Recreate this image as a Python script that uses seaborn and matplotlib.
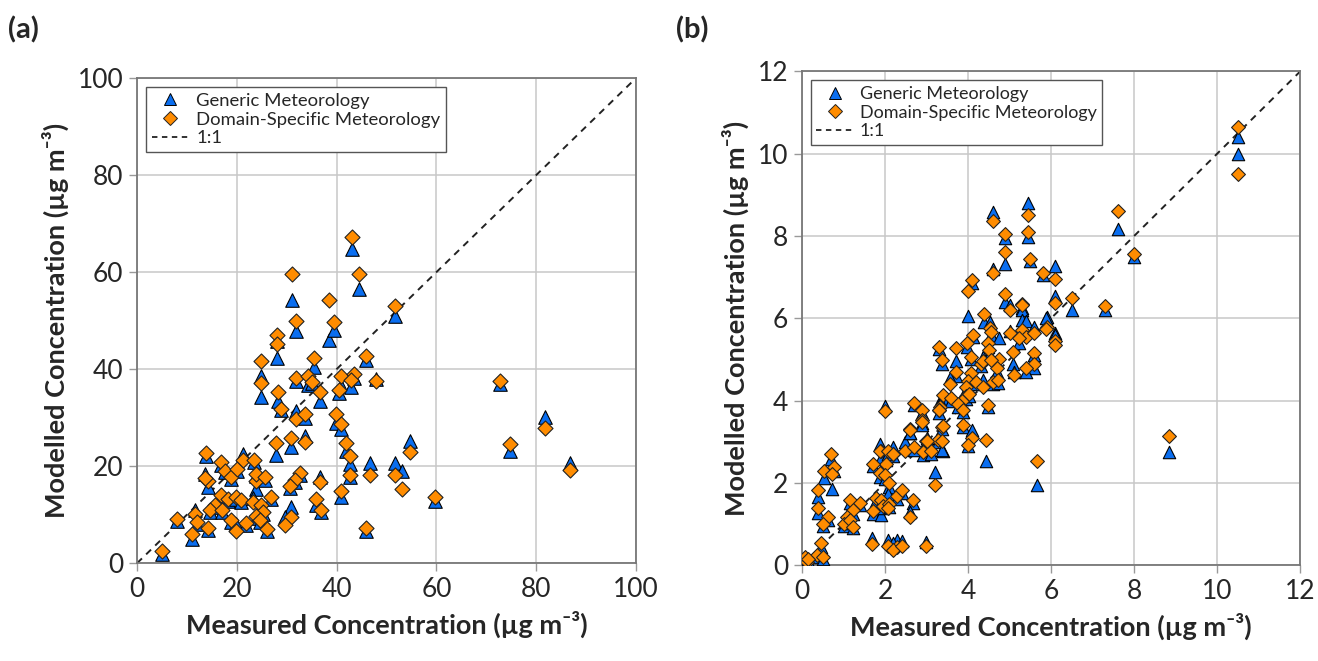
import seaborn as sns
import matplotlib.pyplot as plt
import matplotlib.lines as mlines
import pandas as pd
import numpy as np

# panel (a): measured vs modelled, generic vs domain-specific meteorology
a_measured = [43.1, 31.1, 44.4, 38.5, 51.7, 31.8, 39.5, 28.1, 28.1, 24.8, 24.8, 35.4, 45.8,
              31.8, 34.3, 35.0, 40.8, 40.5, 43.4, 42.8, 47.8, 28.2, 28.9, 36.7, 31.8, 33.7,
              39.9, 40.8, 33.7, 27.8, 30.8, 13.8, 41.8, 42.7, 54.7, 16.8, 17.6, 18.8, 20.1,
              21.3, 23.5, 46.7, 51.7, 53.0, 42.7, 32.7, 31.7, 30.7, 36.7, 40.8, 59.8, 14.2,
              23.9, 23.9, 25.6, 16.8, 18.3, 19.8, 20.8, 15.6, 14.6, 17.0, 23.3, 24.9, 25.2,
              26.8, 23.8, 24.6, 26.0, 35.9, 36.9, 30.8, 29.7, 8.0, 11.6, 12.0, 11.0, 14.2,
              18.9, 19.9, 21.8, 45.8, 4.9, 72.7, 81.8, 74.7, 86.8, 13.7]
a_generic = [64.7, 54.3, 56.5, 46.0, 51.0, 47.8, 48.0, 45.8, 42.3, 38.5, 34.2, 40.5, 41.8,
             37.5, 36.8, 37.1, 36.6, 35.0, 38.2, 36.4, 38.0, 33.4, 31.5, 33.4, 31.3, 30.0,
             28.9, 27.7, 26.3, 22.2, 23.9, 22.0, 23.2, 20.5, 25.2, 20.2, 18.7, 17.3, 19.0,
             22.5, 20.8, 20.6, 20.6, 18.9, 17.8, 18.2, 16.8, 15.5, 17.7, 13.7, 12.8, 15.7,
             15.3, 18.0, 17.2, 13.6, 12.9, 13.3, 12.6, 11.5, 10.6, 10.6, 13.5, 11.5, 10.1,
             13.2, 9.4, 8.5, 6.7, 11.9, 10.5, 11.5, 9.5, 8.7, 10.9, 8.1, 5.0, 6.9,
             8.5, 8.1, 7.8, 6.7, 1.8, 36.9, 30.2, 23.2, 20.6, 18.3]
a_domain = [67.3, 59.7, 59.7, 54.3, 53.0, 49.9, 49.7, 47.1, 45.2, 41.6, 37.1, 42.3, 42.7,
            38.2, 38.5, 37.3, 38.6, 35.6, 38.9, 37.7, 37.5, 35.3, 31.8, 35.3, 29.8, 30.7,
            30.7, 28.6, 25.0, 24.7, 25.8, 22.7, 24.7, 22.0, 23.0, 20.8, 19.1, 17.7, 19.4,
            21.3, 21.2, 18.2, 18.2, 15.3, 18.2, 18.6, 17.2, 15.9, 16.7, 14.8, 13.6, 17.0,
            17.0, 18.4, 17.7, 14.0, 13.3, 13.7, 13.0, 11.9, 11.0, 11.0, 12.6, 11.9, 10.5,
            13.6, 9.8, 8.9, 7.1, 13.3, 10.9, 9.6, 7.8, 9.1, 10.2, 8.5, 6.0, 7.3,
            8.9, 6.7, 8.2, 7.3, 2.6, 37.6, 27.9, 24.5, 19.3, 17.6]

# panel (b)
b_measured = [10.5, 10.5, 8.0, 7.6, 7.3, 8.85, 6.5, 6.1, 6.1, 6.1, 6.1, 5.9, 5.8, 5.67, 5.45,
              5.45, 5.49, 4.6, 4.9, 4.9, 4.6, 4.9, 5.0, 5.29, 5.31, 4.1, 4.0, 4.39, 4.52, 4.12,
              4.55, 4.75, 5.29, 5.4, 5.0, 5.23, 5.6, 5.87, 5.6, 5.6, 5.39, 5.08, 5.1, 4.7,
              3.98, 4.48, 4.5, 3.3, 3.36, 3.7, 4.08, 4.3, 4.36, 4.56, 3.7, 3.56, 4.08, 4.0,
              4.18, 4.36, 4.59, 4.73, 3.96, 3.96, 4.02, 3.4, 3.6, 3.32, 3.86, 3.76, 4.48,
              2.9, 3.3, 3.88, 2.9, 3.36, 3.88, 2.98, 3.28, 4.1, 4.0, 4.43, 3.39, 3.2, 2.7,
              3.31, 2.61, 2.0, 2.48, 2.7, 2.91, 3.1, 3.37, 2.6, 2.88, 3.0, 1.9, 2.2, 2.03,
              1.88, 2.06, 2.2, 1.7, 1.88, 2.0, 2.1, 0.69, 0.53, 0.76, 0.73, 0.39, 0.39, 0.63,
              0.51, 0.45, 0.37, 0.5, 0.07, 0.11, 0.15, 1.16, 1.4, 1.24, 1.08, 1.0, 1.16, 1.24,
              1.69, 1.7, 1.78, 1.9, 1.94, 2.1, 2.08, 2.3, 2.41, 2.68, 2.59, 2.08, 2.3, 2.18,
              2.4, 2.99]
b_generic = [10.4, 10.0, 7.5, 8.17, 6.2, 2.75, 6.19, 7.28, 6.53, 5.64, 5.6, 6.03, 7.05, 1.94, 8.8,
             7.97, 7.4, 8.58, 7.95, 7.32, 7.2, 6.4, 6.33, 6.25, 6.2, 6.85, 6.05, 5.92, 5.92, 5.55,
             5.6, 5.51, 5.96, 5.94, 5.7, 5.4, 5.8, 6.0, 5.1, 4.8, 4.7, 4.9, 4.7, 4.7,
             5.3, 5.3, 5.1, 5.25, 4.9, 4.97, 5.0, 4.85, 5.07, 5.07, 4.6, 4.54, 4.6, 4.4,
             4.4, 4.5, 4.4, 4.42, 4.25, 4.05, 4.1, 4.05, 4.0, 3.99, 3.9, 3.85, 3.85,
             3.7, 3.7, 3.72, 3.45, 3.3, 3.35, 2.95, 3.0, 3.29, 2.9, 2.53, 2.77, 2.26, 3.9,
             3.9, 3.2, 3.88, 3.0, 2.8, 2.67, 2.7, 2.79, 3.2, 3.4, 3.1, 2.6, 2.65, 2.55,
             2.95, 2.7, 2.87, 2.4, 2.15, 2.1, 1.9, 2.59, 2.13, 2.3, 1.86, 1.66, 1.27, 1.1,
             0.95, 0.45, 0.2, 0.15, 0.15, 0.05, 0.1, 1.5, 1.45, 1.25, 1.1, 0.95, 1.02, 0.9,
             0.65, 1.25, 1.55, 1.21, 1.38, 1.42, 1.74, 1.6, 1.75, 1.5, 1.3, 0.6, 0.6, 0.55,
             0.58, 0.57]
b_domain = [10.65, 9.5, 7.55, 8.6, 6.3, 3.15, 6.5, 6.96, 6.37, 5.45, 5.34, 5.78, 7.1, 2.52, 8.52,
            8.09, 7.43, 8.37, 8.05, 7.6, 7.1, 6.6, 6.2, 6.35, 6.32, 6.92, 6.67, 6.1, 5.76, 5.6,
            5.66, 5.0, 5.72, 5.55, 5.64, 5.53, 5.64, 5.74, 5.15, 4.88, 4.79, 5.19, 4.62, 4.8,
            5.39, 5.39, 5.23, 5.31, 4.99, 5.27, 5.05, 4.9, 4.95, 4.99, 4.69, 4.4, 4.67, 4.48,
            4.45, 4.34, 4.46, 4.5, 4.32, 4.1, 4.16, 4.14, 4.06, 3.85, 3.99, 3.91, 3.9,
            3.78, 3.78, 3.78, 3.53, 3.35, 3.41, 3.02, 3.05, 3.09, 2.93, 3.03, 3.37, 1.94, 3.94,
            3.78, 3.3, 3.75, 2.78, 2.86, 2.75, 2.78, 3.02, 3.28, 3.48, 3.02, 2.77, 2.7, 2.47,
            2.78, 2.78, 2.71, 2.47, 2.24, 2.18, 2.0, 2.69, 2.29, 2.39, 2.22, 1.82, 1.4, 1.17,
            1.01, 0.54, 0.24, 0.19, 0.2, 0.08, 0.15, 1.58, 1.5, 1.33, 1.17, 1.01, 1.09, 0.93,
            0.51, 1.31, 1.64, 1.58, 1.43, 1.48, 1.4, 1.67, 1.82, 1.59, 1.17, 0.46, 0.43, 0.36,
            0.46, 0.46]

gen_label = "Generic Meteorology"
dom_label = "Domain-Specific Meteorology"
x_title = "Measured Concentration (µg m⁻³)"
y_title = "Modelled Concentration (µg m⁻³)"
blue = "#0a6ef0"
orange = "#ff8c00"

sns.set_style("whitegrid")
plt.rcParams["font.family"] = ["Lato", "DejaVu Sans"]

fig = plt.figure(figsize=(13.18, 6.61), dpi=100)
ax_a = fig.add_axes([0.104, 0.148, 0.3786, 0.734])
ax_b = fig.add_axes([0.6085, 0.145, 0.378, 0.747])


def draw_panel(ax, x, gen, dom, lim, step, size, leg_fs):
    df = pd.DataFrame({"Measured": x, "Generic": gen, "Domain": dom})
    ax.plot([0, lim], [0, lim], ls=(0, (3.5, 3)), color="#222222", lw=1.4, zorder=1.5)
    sns.scatterplot(data=df, x="Measured", y="Generic", ax=ax, marker="^", s=size,
                    color=blue, edgecolor="black", linewidth=0.8, zorder=3)
    sns.scatterplot(data=df, x="Measured", y="Domain", ax=ax, marker="D", s=size * 0.62,
                    color=orange, edgecolor="#222222", linewidth=0.8, zorder=4)
    ax.set_xlim(0, lim)
    ax.set_ylim(0, lim)
    ticks = np.arange(0, lim + step / 2, step)
    ax.set_xticks(ticks)
    ax.set_yticks(ticks)
    ax.tick_params(axis="both", labelsize=19, length=6, width=1, color="#999999",
                   direction="out", bottom=True, left=True, pad=4)
    ax.grid(True, color="#c8c8c8", lw=1.1)
    for sp in ax.spines.values():
        sp.set_color("#777777")
        sp.set_linewidth(1.3)
    ax.set_xlabel(x_title, fontsize=19.5, fontweight="bold", labelpad=6)
    ax.set_ylabel(y_title, fontsize=19.5, fontweight="bold", labelpad=6)
    handles = [
        mlines.Line2D([], [], ls="none", marker="^", markersize=9, color=blue,
                      markeredgecolor="black", markeredgewidth=0.7),
        mlines.Line2D([], [], ls="none", marker="D", markersize=7, color=orange,
                      markeredgecolor="#222222", markeredgewidth=0.7),
        mlines.Line2D([], [], ls=(0, (3, 2.5)), color="#222222", lw=1.3),
    ]
    leg = ax.legend(handles, [gen_label, dom_label, "1:1"], loc="upper left",
                    fontsize=leg_fs, frameon=True, fancybox=False, framealpha=1,
                    edgecolor="#555555", borderpad=0.3, labelspacing=0.15,
                    handlelength=2.0, handletextpad=0.4, borderaxespad=0.5)
    leg.get_frame().set_linewidth(1.0)


draw_panel(ax_a, a_measured, a_generic, a_domain, 100, 20, 95, 13.3)
draw_panel(ax_b, b_measured, b_generic, b_domain, 12, 2, 80, 13)

fig.text(0.006, 0.975, "(a)", fontsize=21, fontweight="bold", va="top")
fig.text(0.513, 0.975, "(b)", fontsize=21, fontweight="bold", va="top")

plt.savefig("out.png", dpi=100)
